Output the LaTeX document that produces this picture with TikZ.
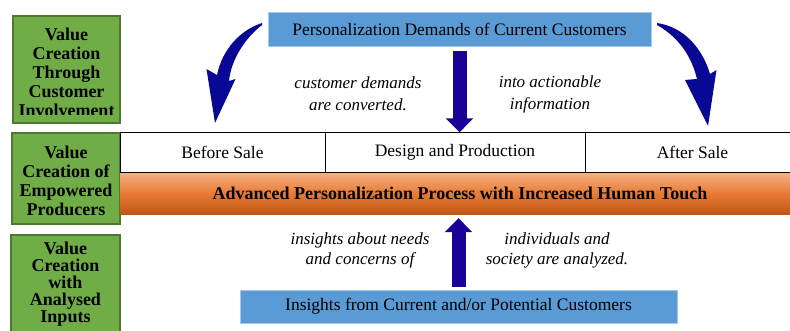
\documentclass[tikz,border=0pt]{standalone}
\usepackage{fontspec}
\setmainfont{Liberation Serif}
\usetikzlibrary{arrows.meta,positioning,calc}
\definecolor{valgreen}{RGB}{112,173,71}
\definecolor{valgreenline}{RGB}{78,122,48}
\definecolor{custblue}{RGB}{91,155,213}
\definecolor{flowblue}{RGB}{25,0,150}
\definecolor{bendblue}{RGB}{8,8,148}
\definecolor{orangetop}{RGB}{245,180,135}
\definecolor{orangemid}{RGB}{232,122,52}
\definecolor{orangebot}{RGB}{190,84,20}
\tikzset{
	valuebox/.style={draw=valgreenline, line width=1.6pt, fill=valgreen},
	valuetext/.style={align=center, font=\fontsize{18}{19}\selectfont\bfseries},
	custbox/.style={fill=custblue, draw=custblue!55!white, line width=0.8pt, inner sep=0pt, font=\fontsize{17.5}{20}\selectfont},
	stagecell/.style={draw=black, line width=0.9pt, fill=white, minimum height=39.5, inner sep=0pt, font=\fontsize{17.5}{20}\selectfont},
	notetext/.style={align=center, font=\fontsize{17}{22}\selectfont\itshape},
	flowarrow/.style={draw=flowblue, line width=14pt, -{Triangle[width=27pt,length=14pt]}},
}
\begin{document}
\begin{tikzpicture}[x=1pt,y=-1pt]
			\useasboundingbox (0,0) rectangle (790,331);
			\draw[valuebox] (13,16) rectangle (120,123);
			\begin{scope}
				\clip (13,16) rectangle (120,114.5);
				\node[valuetext] (through) at (66.5,72) {Value\\Creation\\Through\\Customer\\Involvement};
			\end{scope}
			\draw[valuebox] (12,133) rectangle (120,224);
			\node[valuetext] (empowered) at (66,181) {Value\\Creation of\\Empowered\\Producers};
			\draw[valuebox] (11,235) rectangle (120,345);
			\node[valuetext, font=\fontsize{18}{17}\selectfont\bfseries] (analysed) at (65.5,284) {Value\\Creation\\with\\Analysed\\Inputs};
			\node[custbox, minimum width=383, minimum height=34] (demand) at (459.5,29) {Personalization Demands of Current Customers};
			\node[custbox, minimum width=437, minimum height=33] (insight) at (458.5,306.5) {Insights from Current and/or Potential Customers};
			\node[shade, top color=orangetop, bottom color=orangebot, middle color=orangemid, minimum width=680, minimum height=43, inner sep=0pt, font=\fontsize{18}{20}\selectfont\bfseries] (bar) at (460,193.5) {Advanced Personalization Process with Increased Human Touch};
			\node[stagecell, minimum width=205] (before) at (222.5,152.5) {Before Sale};
			\node[stagecell, minimum width=260] (design) at (455,152.5) {Design and Production};
			\node[stagecell, minimum width=215] (after) at (692.5,152.5) {After Sale};
			\draw[flowarrow, shorten <=5pt] (demand.south) -- (demand.south |- design.north);
			\draw[flowarrow, shorten <=3pt, shorten >=3pt] (insight.north) -- (insight.north |- bar.south);
			\node[notetext] (converted) at (358,94) {customer demands\\are converted.};
			\node[notetext] (actionable) at (550,94) {into actionable\\information};
			\node[notetext, font=\fontsize{17}{20}\selectfont\itshape] (concerns) at (360,250) {insights about needs\\and concerns of};
			\node[notetext, font=\fontsize{17}{20}\selectfont\itshape] (analyzed) at (557,250) {individuals and\\society are analyzed.};
			\coordinate (Ltail) at (262,23);
			\coordinate (Ltip) at (215,123);
			\coordinate (Rtail) at (657,23);
			\coordinate (Rtip) at (708,126);
			\fill[bendblue] (Ltail) .. controls (240,30) and (222,50) .. (217,75) -- (206.5,69) -- (Ltip) -- (235.5,79) -- (229,81) .. controls (231,60) and (245,38) .. ($(Ltail)+(0,2)$) -- cycle;
			\fill[bendblue] (Rtail) .. controls (685,27) and (703,50) .. (710,74) -- (716.5,70) -- (Rtip) -- (685,80) -- (697,79) .. controls (692,58) and (680,38) .. ($(Rtail)+(0,2)$) -- cycle;
		\end{tikzpicture}
\end{document}
